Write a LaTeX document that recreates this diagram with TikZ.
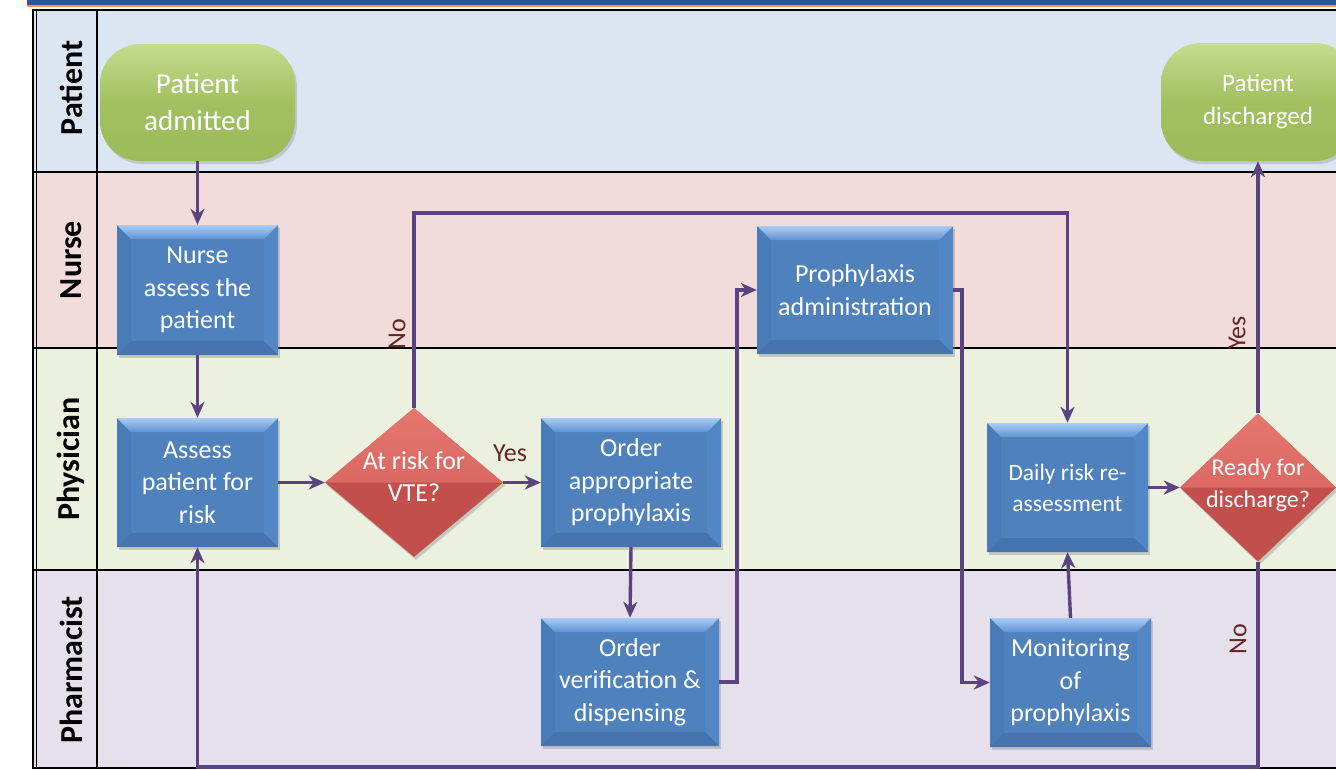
\documentclass[tikz,border=0pt]{standalone}
\usepackage{fontspec}
\setmainfont{Carlito}
\usetikzlibrary{arrows.meta,shapes.geometric,shadows,calc}
\definecolor{bandblue}{HTML}{2E5597}
\definecolor{bandorange}{HTML}{F79646}
\definecolor{laneP}{HTML}{DCE6F2}
\definecolor{laneN}{HTML}{F2DCDB}
\definecolor{laneD}{HTML}{EBF1DE}
\definecolor{laneR}{HTML}{E5E0EC}
\definecolor{connc}{HTML}{5A4380}
\definecolor{lblc}{HTML}{632523}
\definecolor{boxmain}{HTML}{4F81BD}
\definecolor{boxtopA}{HTML}{A9CCF6}
\definecolor{boxtopB}{HTML}{5F93D3}
\definecolor{boxleft}{HTML}{497BB8}
\definecolor{boxright}{HTML}{5386C5}
\definecolor{boxbot}{HTML}{4473AE}
\definecolor{redA}{HTML}{E6766F}
\definecolor{redB}{HTML}{D05B57}
\definecolor{redC}{HTML}{C24F4B}
\definecolor{greenA}{HTML}{C5DC8E}
\definecolor{greenB}{HTML}{9CBB59}
\tikzset{
  boxtext/.style={text=white, align=center, font=\fontsize{26}{32.5}\selectfont},
  procbox/.style={rectangle, inner sep=0pt, fill=boxmain, boxtext,
    drop shadow={shadow xshift=2pt, shadow yshift=-3pt, opacity=0.35},
    path picture={
      \fill[boxleft] (path picture bounding box.north west) -- ($(path picture bounding box.north west)+(14,14)$) -- ($(path picture bounding box.south west)+(14,-14)$) -- (path picture bounding box.south west) -- cycle;
      \fill[boxright] (path picture bounding box.north east) -- ($(path picture bounding box.north east)+(-14,14)$) -- ($(path picture bounding box.south east)+(-14,-14)$) -- (path picture bounding box.south east) -- cycle;
      \fill[boxbot] (path picture bounding box.south west) -- ($(path picture bounding box.south west)+(14,-14)$) -- ($(path picture bounding box.south east)+(-14,-14)$) -- (path picture bounding box.south east) -- cycle;
      \shade[top color=boxtopA, bottom color=boxtopB] (path picture bounding box.north west) -- (path picture bounding box.north east) -- ($(path picture bounding box.north east)+(-14,14)$) -- ($(path picture bounding box.north west)+(14,14)$) -- cycle;
    }},
  decision/.style={diamond, inner sep=0pt, fill=redC,
    drop shadow={shadow xshift=2pt, shadow yshift=-3pt, opacity=0.35},
    path picture={
      \shade[top color=redA, bottom color=redB] (path picture bounding box.west) -- (path picture bounding box.north) -- (path picture bounding box.east) -- cycle;
    }},
  dtext/.style={boxtext, inner sep=0pt},
  terminal/.style={rectangle, rounded corners=40pt, inner sep=0pt, text=white, align=center,
    top color=greenA, bottom color=greenB, middle color=greenB!85!greenA,
    drop shadow={shadow xshift=2pt, shadow yshift=-3pt, opacity=0.3}},
  conn/.style={draw=connc, line width=3.4pt, -{Stealth[length=16pt,width=14pt,inset=5pt]}},
  lanelbl/.style={rotate=90, font=\bfseries\fontsize{32}{38}\selectfont, text=black},
  edgelbl/.style={text=lblc, font=\fontsize{26}{30}\selectfont, inner sep=0pt},
}
\begin{document}
\begin{tikzpicture}[x=1pt,y=-1pt]
\useasboundingbox (0,0) rectangle (1336,769);
\clip (0,0) rectangle (1336,769);
% top band
\fill[bandblue] (27,0) rectangle (1340,5);
\fill[bandorange] (27,5) rectangle (1340,6.5);
% lanes
\fill[laneP] (33,9) rectangle (1340,172);
\fill[laneN] (33,172) rectangle (1340,348);
\fill[laneD] (33,348) rectangle (1340,570);
\fill[laneR] (33,570) rectangle (1340,769);
\draw[line width=2pt] (32,9.5) -- (1340,9.5);
\draw[line width=2pt] (33,172) -- (1340,172);
\draw[line width=2pt] (33,348) -- (1340,348);
\draw[line width=2pt] (33,570) -- (1340,570);
\draw[line width=2pt] (33,768) -- (1340,768);
\draw[line width=2.2pt] (33,9) -- (33,769);
\draw[line width=1pt] (36.5,10) -- (36.5,769);
\draw[line width=2pt] (97,9) -- (97,769);
% lane labels
\node[lanelbl] (lP) at (71,88) {Patient};
\node[lanelbl] (lN) at (71,260) {Nurse};
\node[lanelbl] (lD) at (71,459) {Physician};
\node[lanelbl] (lR) at (71,670) {Pharmacist};
% nodes
\node[terminal, minimum width=195pt, minimum height=117pt, font=\fontsize{29}{37}\selectfont] (pa) at (197.5,102.5) {Patient\\admitted};
\node[terminal, minimum width=194pt, minimum height=118pt, font=\fontsize{25}{33}\selectfont] (pd) at (1258,102) {\raisebox{-3pt}{Patient}\\\raisebox{-3pt}{discharged}};
\node[procbox, minimum width=161pt, minimum height=130pt] (na) at (197.5,290) {Nurse\\assess the\\patient};
\node[procbox, minimum width=161pt, minimum height=129pt] (ar) at (197.5,482.5) {Assess\\patient for\\risk};
\node[decision, minimum width=178pt, minimum height=149pt,
  label={[dtext, yshift=6pt]center:At risk for\\VTE?}] (d1) at (414,482.5) {};
\node[procbox, minimum width=180pt, minimum height=129pt] (oa) at (631,482.5) {Order\\appropriate\\prophylaxis};
\node[procbox, minimum width=178pt, minimum height=128pt] (ov) at (630,682) {Order\\verification \&\\dispensing};
\node[procbox, minimum width=196pt, minimum height=128pt] (px) at (855,290) {Prophylaxis\\administration};
\node[procbox, minimum width=161pt, minimum height=129pt, font=\fontsize{23.5}{31}\selectfont] (dr) at (1067.5,487.5) {Daily risk re-\\assessment};
\node[procbox, minimum width=161pt, minimum height=129pt] (mo) at (1070.5,682.5) {Monitoring\\of\\prophylaxis};
\node[decision, minimum width=156pt, minimum height=148pt,
  label={[dtext, font=\fontsize{24}{32}\selectfont, yshift=2pt]center:Ready for\\discharge?}] (d2) at (1258,487.5) {};
% helper coordinates
\coordinate (noTop) at (740,213);
\coordinate (v1) at (737,500);
\coordinate (v2) at (962,500);
\coordinate (bot) at (700,767);
% connectors
\draw[conn] (pa.south) -- (na.north);
\draw[conn] (na.south) -- (ar.north);
\draw[conn] (ar.east) -- (d1.west);
\draw[conn] (d1.east) -- (oa.west);
\draw[conn] (d1.north) |- (noTop) -| (dr.north);
\draw[conn] (oa.south) -- (ov.north);
\draw[conn] (ov.east) -| (v1) |- (px.west);
\draw[conn] (px.east) -| (v2) |- (mo.west);
\draw[conn] (mo.north) -- (dr.south);
\draw[conn] (dr.east) -- (d2.west);
\draw[conn] (d2.north) -- (pd.south);
\draw[conn] (d2.south) |- (bot) -| (ar.south);
% edge labels
\node[edgelbl] (yes1) at (510,453) {Yes};
\node[edgelbl, rotate=90] (no1) at (397,334) {No};
\node[edgelbl, rotate=90] (yes2) at (1237,333) {Yes};
\node[edgelbl, rotate=90] (no2) at (1238,639) {No};
\end{tikzpicture}
\end{document}
